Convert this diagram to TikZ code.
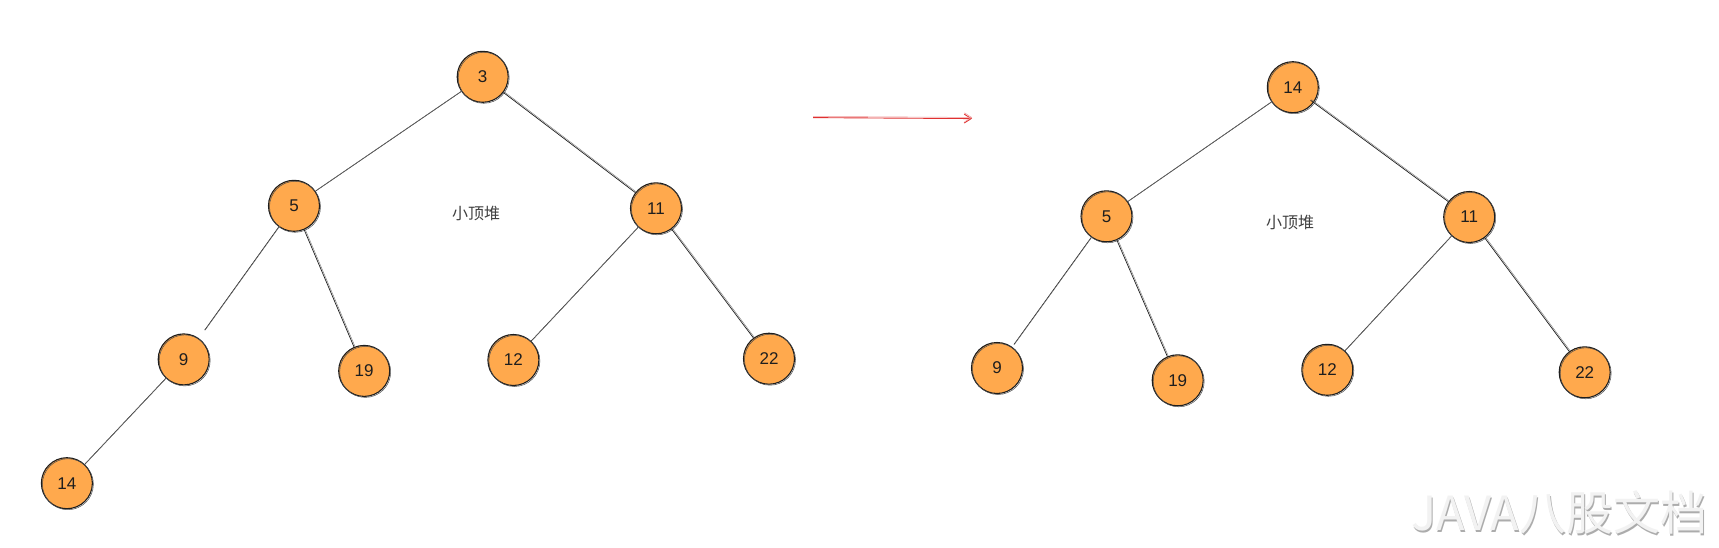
\documentclass[tikz,border=0pt]{standalone}
\usepackage{fontspec}
\setmainfont{Liberation Sans}
\newfontfamily\cjk{Noto Sans CJK SC}
\usetikzlibrary{arrows.meta}
\definecolor{heaporange}{RGB}{255,169,77}
\definecolor{inkblack}{RGB}{30,30,30}
\definecolor{arrowred}{RGB}{224,49,49}
\tikzset{
  heapnode/.style={circle, fill=heaporange, draw=inkblack, line width=1.1pt,
    minimum size=51pt, inner sep=0pt, font=\fontsize{17}{20}\selectfont, text=inkblack,
    postaction={draw=inkblack!80, line width=0.5pt, transform canvas={shift={(1pt,-1pt)}}}},
  treeedge/.style={draw=inkblack, line width=0.7pt,
    postaction={draw=inkblack!60, line width=0.4pt, transform canvas={shift={(0.9pt,0.7pt)}}}},
  heaplabel/.style={font=\cjk\fontsize{16}{19}\selectfont, text=inkblack!85},
}
\begin{document}
\begin{tikzpicture}[x=1pt,y=-1pt]
\useasboundingbox[fill=white] (0,0) rectangle (1719,547);
% left tree
\node[heapnode] (L3)  at (482.7,76.8) {3};
\node[heapnode] (L5)  at (294,205.8) {5};
\node[heapnode] (L11) at (656,208.3) {11};
\node[heapnode] (L9)  at (183.7,359.4) {9};
\node[heapnode] (L19) at (364.2,370.9) {19};
\node[heapnode] (L12) at (513.4,360) {12};
\node[heapnode] (L22) at (769,358.7) {22};
\node[heapnode] (L14) at (66.9,483.2) {14};
\node[heaplabel] (Llab) at (476,213.5) {小顶堆};
\draw[treeedge] (L3) -- (L5);
\draw[treeedge] (L3) -- (L11);
\draw[treeedge, shorten >=10pt] (L5) -- (L9);
\draw[treeedge] (L5) -- (L19);
\draw[treeedge] (L11) -- (L12);
\draw[treeedge] (L11) -- (L22);
\draw[treeedge] (L9) -- (L14);
% arrow
\coordinate (A1) at (813,117.6);
\coordinate (A2) at (972,118.6);
\draw[arrowred, line width=0.9pt, -{Straight Barb[length=7pt,width=9pt]},
  postaction={draw=arrowred!50, line width=0.5pt, transform canvas={shift={(0pt,1.2pt)}}}] (A1) -- (A2);
% right tree
\node[heapnode] (R14) at (1292.8,87.2) {14};
\node[heapnode] (R5)  at (1106.5,216.3) {5};
\node[heapnode] (R11) at (1469.2,217) {11};
\node[heapnode] (R9)  at (997,368) {9};
\node[heapnode] (R19) at (1177.7,380.3) {19};
\node[heapnode] (R12) at (1327.3,369.8) {12};
\node[heapnode] (R22) at (1584.7,372.3) {22};
\node[heaplabel] (Rlab) at (1290,222.6) {小顶堆};
\draw[treeedge] (R14) -- (R5);
\draw[treeedge, shorten <=-4pt] (R14) -- (R11);
\draw[treeedge, shorten >=3pt] (R5) -- (R9);
\draw[treeedge] (R5) -- (R19);
\draw[treeedge] (R11) -- (R12);
\draw[treeedge] (R11) -- (R22);
% watermark
\node[font=\cjk\fontsize{47}{52}\selectfont, text=gray!65, anchor=east] (wmshadow) at (1712,514.5) {JAVA八股文档};
\node[font=\cjk\fontsize{47}{52}\selectfont, text=gray!10, anchor=east] (wm) at (1710.5,513) {JAVA八股文档};
\end{tikzpicture}
\end{document}
